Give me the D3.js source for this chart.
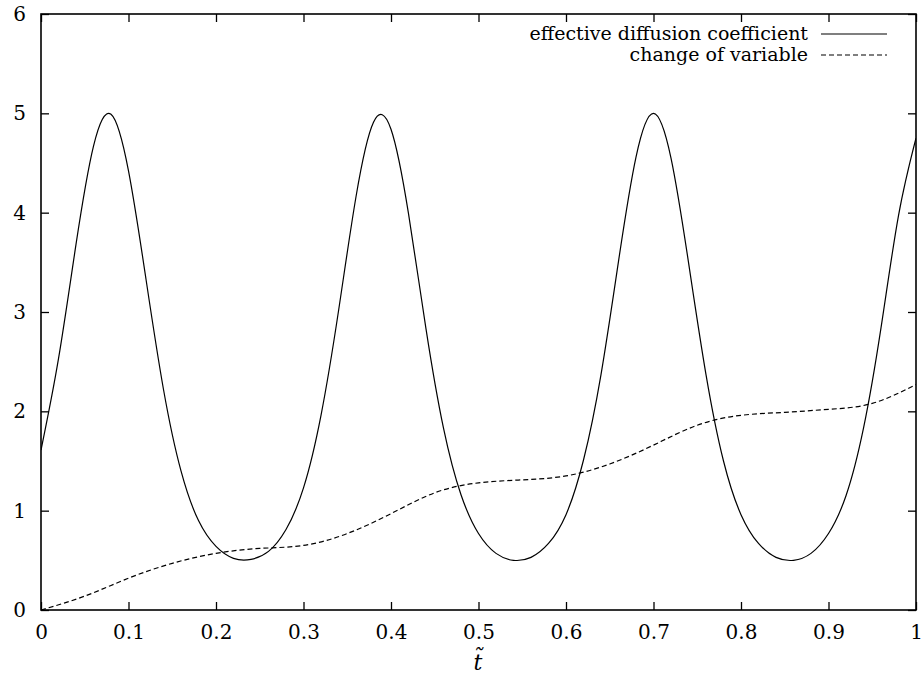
<!DOCTYPE html>
<html>
<head>
<meta charset="utf-8">
<script src="https://cdn.jsdelivr.net/npm/d3@7"></script>
<style>
  body { margin: 0; background: #fff; }
  svg text { font-family: "DejaVu Serif", serif; }
</style>
</head>
<body>
<div id="chart"></div>
<script>
// Values
const tDiff = d3.range(0, 51).map(i => i / 50);
const diffusion = [1.61, 2.53, 3.68, 4.67, 4.99, 4.42, 3.33, 2.22, 1.40, 0.90,
    0.64, 0.52, 0.51, 0.59, 0.81, 1.23, 1.96, 3.01, 4.16, 4.91,
    4.84, 3.99, 2.83, 1.83, 1.16, 0.77, 0.57, 0.50, 0.53, 0.67,
    0.96, 1.51, 2.37, 3.51, 4.56, 5.00, 4.55, 3.50, 2.37, 1.50,
    0.96, 0.67, 0.53, 0.50, 0.57, 0.77, 1.15, 1.83, 2.84, 3.97,
    4.75];

const tChange = d3.range(0, 21).map(i => i / 20);
const changeOfVar = [0, 0.14, 0.32, 0.47, 0.57, 0.62, 0.65, 0.77, 0.97, 1.18,
    1.28, 1.31, 1.35, 1.47, 1.66, 1.86, 1.96, 1.99, 2.02, 2.08, 2.27];

const xTicks = [0, 0.1, 0.2, 0.3, 0.4, 0.5, 0.6, 0.7, 0.8, 0.9, 1];
const yTicks = [0, 1, 2, 3, 4, 5, 6];
const legendLabels = ["effective diffusion coefficient", "change of variable"];

const width = 923, height = 682;
const margin = { left: 41, right: 7, top: 14, bottom: 72 };

const svg = d3.select("#chart").append("svg")
    .attr("width", width)
    .attr("height", height);

const x = d3.scaleLinear().domain([0, 1]).range([margin.left, width - margin.right]);
const y = d3.scaleLinear().domain([0, 6]).range([height - margin.bottom, margin.top]);

// Axes with inward ticks on all four sides
const tickLen = 8;
const fmtX = d => (d === 0 || d === 1) ? String(d) : d3.format(".1f")(d);

svg.append("g")
    .attr("transform", `translate(0,${y(0)})`)
    .call(d3.axisBottom(x).tickValues(xTicks).tickSize(-tickLen).tickPadding(14).tickFormat(fmtX))
    .call(g => g.select(".domain").remove())
    .call(g => g.attr("font-size", 20))
    .call(g => g.selectAll("text").attr("dy", "0.75em"));

svg.append("g")
    .attr("transform", `translate(0,${y(6)})`)
    .call(d3.axisTop(x).tickValues(xTicks).tickSize(-tickLen).tickFormat(""))
    .call(g => g.select(".domain").remove());

svg.append("g")
    .attr("transform", `translate(${x(0)},0)`)
    .call(d3.axisLeft(y).tickValues(yTicks).tickSize(-tickLen).tickPadding(15).tickFormat(d3.format("d")))
    .call(g => g.select(".domain").remove())
    .call(g => g.attr("font-size", 20));

svg.append("g")
    .attr("transform", `translate(${x(1)},0)`)
    .call(d3.axisRight(y).tickValues(yTicks).tickSize(-tickLen).tickFormat(""))
    .call(g => g.select(".domain").remove());

svg.selectAll(".tick line").attr("stroke", "#000").attr("stroke-width", 1.3);
svg.selectAll(".tick text").attr("fill", "#000");

svg.append("rect")
    .attr("x", x(0)).attr("y", y(6))
    .attr("width", x(1) - x(0)).attr("height", y(0) - y(6))
    .attr("fill", "none").attr("stroke", "#000").attr("stroke-width", 1.6);

// Curves
svg.append("clipPath").attr("id", "plotClip")
    .append("rect")
    .attr("x", x(0)).attr("y", y(6))
    .attr("width", x(1) - x(0)).attr("height", y(0) - y(6));

const line = d3.line().curve(d3.curveNatural);

svg.append("path")
    .attr("clip-path", "url(#plotClip)")
    .attr("d", line(tDiff.map((t, i) => [x(t), y(diffusion[i])])))
    .attr("fill", "none").attr("stroke", "#000").attr("stroke-width", 1.2);

svg.append("path")
    .attr("clip-path", "url(#plotClip)")
    .attr("d", line(tChange.map((t, i) => [x(t), y(changeOfVar[i])])))
    .attr("fill", "none").attr("stroke", "#000").attr("stroke-width", 1.2)
    .attr("stroke-dasharray", "5,3");

// Legend
const legend = svg.append("g");
legendLabels.forEach((label, i) => {
    const ly = 34 + i * 21;
    legend.append("text")
        .attr("x", 808).attr("y", ly)
        .attr("dy", "0.33em")
        .attr("text-anchor", "end")
        .attr("font-size", 19)
        .attr("fill", "#000")
        .text(label);
    legend.append("line")
        .attr("x1", 821).attr("x2", 887)
        .attr("y1", ly).attr("y2", ly)
        .attr("stroke", "#000").attr("stroke-width", 1.2)
        .attr("stroke-dasharray", i === 1 ? "5,3" : null);
});

// x axis title
svg.append("text")
    .attr("x", 478).attr("y", 670)
    .attr("text-anchor", "middle")
    .attr("font-size", 22)
    .attr("font-style", "italic")
    .attr("fill", "#000")
    .text("t\u0303");
</script>
</body>
</html>
